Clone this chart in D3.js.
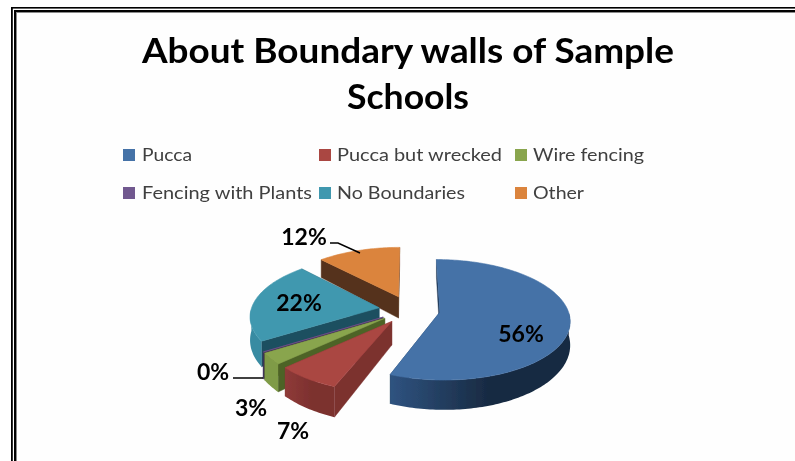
<!DOCTYPE html>
<html><head><meta charset="utf-8">
<script src="https://cdn.jsdelivr.net/npm/d3@7"></script>
<style>html,body{margin:0;padding:0;background:#fff}svg{display:block}text{font-family:Lato,"Open Sans",sans-serif;}</style>
</head><body><svg id="c" width="795" height="461"></svg>
<script>
const categories=["Pucca","Pucca but wrecked","Wire fencing","Fencing with Plants","No Boundaries","Other"];
const values=[56,7,3,0,22,12];
const titleLines=["About Boundary walls of Sample","Schools"];

const topColors=["#4572a7","#aa4643","#89a54e","#71588f","#4198af","#db843d"];
const cutColors=["#1d3554","#7b302e","#4e6328","#3f2f57","#1f4f60","#55301a"];
const wallFrom=["#2f5380","#8f3b39","#7f9b47","#4b3a63","#398ba2","#7a4a20"];
const wallTo=["#182a42","#7c302e","#7f9b47","#4b3a63","#398ba2","#7a4a20"];
const labelPos=[[521,342],[293,439],[251,416],[213,380],[299,311],[304,245]];
const legendPos=[[123,149],[319,149],[515,149],[123,187],[319,187],[515,187]];
const legendWidths=[50,165,111,170,128,51];
const titleWidths=[532,122];
const leaders=[[[233,378],[263,378]],[[330,243],[338,243],[360,253]]];

const svg=d3.select("#c");
const defs=svg.append("defs");
defs.append("filter").attr("id","soft").attr("x","-5%").attr("y","-5%").attr("width","110%").attr("height","110%")
  .append("feGaussianBlur").attr("stdDeviation",0.55);

svg.append("rect").attr("width",795).attr("height",461).attr("fill","#fff");
svg.append("rect").attr("x",17).attr("y",13).attr("width",778).attr("height",448).attr("fill","#fefefe");
[[11,7,784,1.6,"#000"],[11,7,1.8,454,"#000"],[14,10,781,2,"#000"],[14,10,2,451,"#000"],[16,12,779,1,"#8a8a8a"],[16,12,1,449,"#8a8a8a"]]
 .forEach(r=>svg.append("rect").attr("x",r[0]).attr("y",r[1]).attr("width",r[2]).attr("height",r[3]).attr("fill",r[4]));

const g=svg.append("g").attr("filter","url(#soft)");

// title
g.selectAll("text.title").data(titleLines).join("text").attr("class","title")
 .attr("x",408).attr("y",(d,i)=>63+i*46).attr("text-anchor","middle")
 .attr("font-size",35).attr("font-weight",700).attr("fill","#000")
 .attr("textLength",(d,i)=>titleWidths[i]).attr("lengthAdjust","spacingAndGlyphs").text(d=>d);

// legend
const color=d3.scaleOrdinal(categories,topColors);
const lg=g.selectAll("g.lg").data(categories).join("g").attr("class","lg")
 .attr("transform",(d,i)=>`translate(${legendPos[i]})`);
lg.append("rect").attr("width",12).attr("height",12).attr("fill",d=>color(d));
lg.append("text").attr("x",(d,i)=>i%3===0?19:18).attr("y",12).attr("font-size",18).attr("fill","#404040")
 .attr("textLength",(d,i)=>legendWidths[i]).attr("lengthAdjust","spacingAndGlyphs").text(d=>d);

// perspective 3D pie
const cx=409.5,cy=309.5,rx=128,ry=58.6,k=0.126,depth=22.5,explode=0.24;
const persp=v=>1/(1-k*v);
function project(px,pv,down){
  const s=persp(pv);
  return [cx+px*rx*s, cy+pv*ry*s+(down?depth*s*s:0)];
}
const pie=d3.pie().sort(null).startAngle(0).endAngle(2*Math.PI)(values);
const line=d3.line();
const layers=[5,4,3,2,1,0];

function sliceGeom(d){
  const mid=(d.startAngle+d.endAngle)/2;
  const ox=explode*Math.sin(mid), ov=-explode*Math.cos(mid);
  const pt=a=>[ox+Math.sin(a),ov-Math.cos(a)];
  const n=Math.max(2,Math.ceil((d.endAngle-d.startAngle)/0.02));
  const angles=d3.range(n+1).map(i=>d.startAngle+(d.endAngle-d.startAngle)*i/n);
  return {ox,ov,pt,angles};
}

layers.forEach(i=>{
  const d=pie[i], s=sliceGeom(d), name=categories[i];
  const sl=g.append("g").attr("class","slice");
  const grad=defs.append("linearGradient").attr("id","w"+i).attr("gradientUnits","userSpaceOnUse");
  const xs=s.angles.map(a=>project(...s.pt(a),false)[0]);
  grad.attr("x1",d3.min(xs)).attr("x2",d3.max(xs)).attr("y1",0).attr("y2",0);
  grad.append("stop").attr("offset",0).attr("stop-color",wallFrom[i]);
  grad.append("stop").attr("offset",0.55).attr("stop-color",wallTo[i]);
  grad.append("stop").attr("offset",1).attr("stop-color",wallTo[i]);

  const radial=a=>{
    const t=s.pt(a);
    return line([project(s.ox,s.ov,false),project(...t,false),project(...t,true),project(s.ox,s.ov,true)])+"Z";
  };
  sl.append("path").attr("d",radial(d.endAngle)).attr("fill",cutColors[i]).attr("stroke",cutColors[i]).attr("stroke-width",0.4);
  sl.append("path").attr("d",radial(d.startAngle)).attr("fill",cutColors[i]).attr("stroke",cutColors[i]).attr("stroke-width",0.4);

  const front=s.angles.filter(a=>Math.cos(a)<=0);
  if(front.length>1){
    const upper=front.map(a=>project(...s.pt(a),false));
    const lower=front.map(a=>project(...s.pt(a),true)).reverse();
    sl.append("path").attr("d",line(upper.concat(lower))+"Z").attr("fill",`url(#w${i})`);
  }
  const top=[project(s.ox,s.ov,false)].concat(s.angles.map(a=>project(...s.pt(a),false)));
  sl.append("path").attr("d",line(top)+"Z").attr("fill",color(name)).attr("stroke",color(name)).attr("stroke-width",0.6);
});

// leaders
leaders.forEach(l=>g.append("path").attr("d",line(l)).attr("fill","none").attr("stroke","#000").attr("stroke-width",1.5));

// data labels
g.selectAll("text.lab").data(values).join("text").attr("class","lab")
 .attr("x",(d,i)=>labelPos[i][0]).attr("y",(d,i)=>labelPos[i][1]).attr("text-anchor","middle")
 .attr("font-size",23).attr("font-weight",700).attr("fill","#000").text(d=>d+"%");
</script></body></html>
